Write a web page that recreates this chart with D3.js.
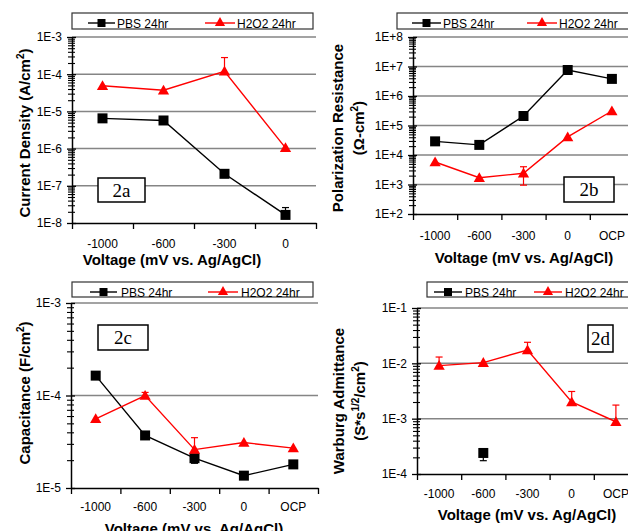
<!DOCTYPE html>
<html>
<head>
<meta charset="utf-8">
<script src="https://cdn.jsdelivr.net/npm/d3@7"></script>
<style>
  body { margin: 0; background: #fff; }
  svg { display: block; font-family: "Liberation Sans", Arial, sans-serif; }
</style>
</head>
<body>
<svg id="fig" width="628" height="531"></svg>
<script>
// categories
const cats4 = ["-1000", "-600", "-300", "0"];
const cats5 = ["-1000", "-600", "-300", "0", "OCP"];

// 2a current density (A/cm2)
const curPBS = [6.5e-6, 5.7e-6, 2.1e-7, 1.65e-8];
const curPBSHi = [null, null, null, 2.6e-8];
const curH2O2 = [4.9e-5, 3.7e-5, 1.2e-4, 1.05e-6];
const curH2O2Hi = [null, null, 2.8e-4, null];

// 2b polarization resistance (ohm-cm2)
const rpPBS = [2.9e4, 2.2e4, 2.1e5, 7.6e6, 3.8e6];
const rpH2O2 = [5.8e3, 1.7e3, 2.4e3, 4.1e4, 3.1e5];
const rpH2O2Hi = [null, null, 4.0e3, null, null];
const rpH2O2Lo = [null, null, 950, null, null];

// 2c capacitance (F/cm2)
const capPBS = [1.64e-4, 3.7e-5, 2.1e-5, 1.36e-5, 1.8e-5];
const capPBSLo = [null, null, 1.85e-5, null, null];
const capH2O2 = [5.6e-5, 1.0e-4, 2.6e-5, 3.1e-5, 2.7e-5];
const capH2O2Hi = [null, 1.08e-4, 3.5e-5, null, null];

// 2d warburg admittance
const wPBS = [null, 2.4e-4, null, null, null];
const wPBSLo = [null, 1.74e-4, null, null, null];
const wH2O2 = [9.1e-3, 1.03e-2, 1.74e-2, 2.0e-3, 8.8e-4];
const wH2O2Hi = [1.3e-2, null, 2.4e-2, 3.1e-3, 1.76e-3];

const legendNames = ["PBS 24hr", "H2O2 24hr"];
const xTitle = "Voltage (mV vs. Ag/AgCl)";

const svg = d3.select("#fig");
svg.append("rect").attr("width", 628).attr("height", 531).attr("fill", "#fff");

function fmtE(d) {
  const e = Math.round(Math.log10(d));
  return "1E" + (e >= 0 ? "+" : "-") + Math.abs(e);
}

function marker(sel, type, size) {
  sel.attr("d", d3.symbol(type === "sq" ? d3.symbolSquare : d3.symbolTriangle, size)());
}

function panel(p) {
  const g = svg.append("g");
  const n = p.cats.length;
  const x = d3.scaleBand().domain(p.cats).range([p.x0, p.x0 + n * p.catW]);
  const y = d3.scaleLog().domain(p.domain).range([p.yBot, p.yTop]);
  const e0 = Math.round(Math.log10(p.domain[0])), e1 = Math.round(Math.log10(p.domain[1]));
  const decades = d3.range(e0, e1 + 1).map(e => Math.pow(10, e));
  const minors = [];
  decades.slice(0, -1).forEach(d => { for (let k = 2; k < 10; k++) minors.push(d * k); });
  const cx = c => x(c) + x.bandwidth() / 2;

  // gridlines
  g.selectAll(".grid").data(decades.slice(1)).join("line")
    .attr("x1", p.x0).attr("x2", x.range()[1])
    .attr("y1", d => y(d)).attr("y2", d => y(d))
    .attr("stroke", "#858585").attr("stroke-width", 1.5);

  // y axis
  const ya = g.append("g").attr("transform", `translate(${p.x0},0)`)
    .call(d3.axisLeft(y).tickValues(decades).tickFormat(fmtE).tickSizeInner(5).tickSizeOuter(0).tickPadding(5));
  ya.select(".domain").attr("stroke-width", 1.5);
  ya.selectAll(".tick line").attr("x1", 4).attr("stroke-width", 1.3);
  ya.selectAll("text").attr("font-size", 12).attr("font-family", "Liberation Sans, Arial, sans-serif").attr("fill", "#000");

  const ym = g.append("g").attr("transform", `translate(${p.x0},0)`)
    .call(d3.axisLeft(y).tickValues(minors).tickFormat("").tickSize(4));
  ym.select(".domain").remove();
  ym.selectAll(".tick line").attr("x1", 3).attr("stroke-width", 1.1);

  // x axis: boundary ticks + centred labels
  const xb = d3.scaleLinear().domain([0, n]).range(x.range());
  const xt = g.append("g").attr("transform", `translate(0,${p.yBot})`)
    .call(d3.axisBottom(xb).ticks(n).tickFormat("").tickSizeInner(6).tickSizeOuter(0));
  xt.select(".domain").attr("stroke-width", 1.5);
  xt.selectAll(".tick line").attr("stroke-width", 1.3);
  const xl = g.append("g").attr("transform", `translate(0,${p.yBot})`)
    .call(d3.axisBottom(x).tickSize(0).tickPadding(p.labelGap - 8.5));
  xl.select(".domain").remove();
  xl.selectAll("text").attr("font-size", 12).attr("font-family", "Liberation Sans, Arial, sans-serif").attr("fill", "#000");

  // tag box
  g.append("rect").attr("x", p.tag.x).attr("y", p.tag.y).attr("width", p.tag.w).attr("height", p.tag.h)
    .attr("fill", "#fff").attr("stroke", "#000").attr("stroke-width", 1.5);
  g.append("text").attr("x", p.tag.x + p.tag.w / 2).attr("y", p.tag.y + p.tag.h / 2 + 6.5)
    .attr("text-anchor", "middle").attr("font-family", "Liberation Serif, Times New Roman, serif")
    .attr("font-size", 19).text(p.tag.label);

  // series
  p.series.forEach(s => {
    const pts = p.cats.map((c, i) => ({ c, v: s.values[i], hi: s.hi ? s.hi[i] : null, lo: s.lo ? s.lo[i] : null }));
    const line = d3.line().defined(d => d.v != null).x(d => cx(d.c)).y(d => y(d.v));
    g.append("path").datum(pts).attr("d", line).attr("fill", "none")
      .attr("stroke", s.color).attr("stroke-width", 1.4);
    pts.forEach(d => {
      [d.hi, d.lo].forEach(e => {
        if (e == null || d.v == null) return;
        g.append("line").attr("x1", cx(d.c)).attr("x2", cx(d.c)).attr("y1", y(d.v)).attr("y2", y(e))
          .attr("stroke", s.color).attr("stroke-width", 1.2);
        g.append("line").attr("x1", cx(d.c) - 3.5).attr("x2", cx(d.c) + 3.5).attr("y1", y(e)).attr("y2", y(e))
          .attr("stroke", s.color).attr("stroke-width", 1.2);
      });
    });
    g.selectAll(null).data(pts.filter(d => d.v != null)).join("path")
      .attr("transform", d => `translate(${cx(d.c)},${y(d.v) + (s.shape === "tri" ? 1 : 0)})`)
      .call(marker, s.shape, s.shape === "sq" ? 100 : 55)
      .attr("fill", s.color);
  });

  // legend
  const L = p.legend;
  g.append("rect").attr("x", L.x).attr("y", L.y).attr("width", L.w).attr("height", L.h)
    .attr("fill", "#fff").attr("stroke", "#333").attr("stroke-width", 1.2);
  p.series.forEach((s, i) => {
    const it = L.items[i];
    const ly = L.y + 10;
    g.append("line").attr("x1", L.x + it[0]).attr("x2", L.x + it[1]).attr("y1", ly).attr("y2", ly)
      .attr("stroke", s.color).attr("stroke-width", 1.4);
    g.append("path").attr("transform", `translate(${L.x + (it[0] + it[1]) / 2},${ly})`)
      .call(marker, s.shape, s.shape === "sq" ? 64 : 45).attr("fill", s.color);
    g.append("text").attr("x", L.x + it[2]).attr("y", L.y + 14.5).attr("font-size", 12)
      .text(legendNames[i]);
  });

  // y title (superscripts shift the baseline, next plain part shifts it back)
  p.yTitle.forEach((parts, k) => {
    const t = g.append("text").attr("transform", `translate(${p.yTitleX[k]},${p.yTitleY}) rotate(-90)`)
      .attr("text-anchor", "middle")
      .attr("font-size", 15).attr("font-weight", "bold");
    let back = 5.25;
    parts.forEach(part => {
      if (typeof part === "string") {
        t.append("tspan").attr("dy", back).text(part);
        back = 0;
      } else {
        t.append("tspan").attr("font-size", 10).attr("dy", -6).text(part.sup);
        back = 6;
      }
    });
  });

  // x title
  g.append("text").attr("x", p.xTitleX).attr("y", p.xTitleY).attr("text-anchor", "middle")
    .attr("font-size", 15).attr("font-weight", "bold").text(xTitle);
}

const pbs = (values, hi, lo) => ({ values, hi, lo, color: "#000", shape: "sq" });
const h2 = (values, hi, lo) => ({ values, hi, lo, color: "#ff0000", shape: "tri" });

panel({
  cats: cats4, x0: 72, catW: 61, yTop: 37, yBot: 223, domain: [1e-8, 1e-3], labelGap: 25,
  series: [pbs(curPBS, curPBSHi), h2(curH2O2, curH2O2Hi)],
  legend: { x: 72, y: 13, w: 241, h: 16, items: [[16, 43, 45], [133, 163, 165]] },
  tag: { x: 98, y: 178, w: 47, h: 24, label: "2a" },
  yTitle: [["Current Density (A/cm", { sup: "2" }, ")"]], yTitleX: [25], yTitleY: 133,
  xTitleX: 172, xTitleY: 265
});

panel({
  cats: cats5, x0: 413, catW: 44.2, yTop: 37, yBot: 214, domain: [1e2, 1e8], labelGap: 26,
  series: [pbs(rpPBS), h2(rpH2O2, rpH2O2Hi, rpH2O2Lo)],
  legend: { x: 397, y: 13, w: 240, h: 16, items: [[15, 44, 46], [130, 160, 162]] },
  tag: { x: 564, y: 177, w: 50, h: 25, label: "2b" },
  yTitle: [["Polarization Resistance"], ["(Ω-cm", { sup: "2" }, ")"]], yTitleX: [338, 359], yTitleY: 128,
  xTitleX: 524, xTitleY: 263
});

panel({
  cats: cats5, x0: 71, catW: 49.4, yTop: 303, yBot: 488, domain: [1e-5, 1e-3], labelGap: 23,
  series: [pbs(capPBS, null, capPBSLo), h2(capH2O2, capH2O2Hi)],
  legend: { x: 72, y: 282, w: 241, h: 15, items: [[18, 45, 49], [136, 166, 169]] },
  tag: { x: 98, y: 325, w: 50, h: 25, label: "2c" },
  yTitle: [["Capacitance (F/cm", { sup: "2" }, ")"]], yTitleX: [25], yTitleY: 393,
  xTitleX: 194, xTitleY: 534
});

panel({
  cats: cats5, x0: 417, catW: 44.2, yTop: 308, yBot: 474, domain: [1e-4, 1e-1], labelGap: 24,
  series: [pbs(wPBS, null, wPBSLo), h2(wH2O2, wH2O2Hi)],
  legend: { x: 427, y: 282, w: 210, h: 15, items: [[7, 35, 38], [107, 135, 138]] },
  tag: { x: 588, y: 325, w: 25, h: 27, label: "2d" },
  yTitle: [["Warburg Admittance"], ["(S*s", { sup: "1/2" }, "/cm", { sup: "2" }, ")"]], yTitleX: [339, 360], yTitleY: 401,
  xTitleX: 527, xTitleY: 520
});
</script>
</body>
</html>
